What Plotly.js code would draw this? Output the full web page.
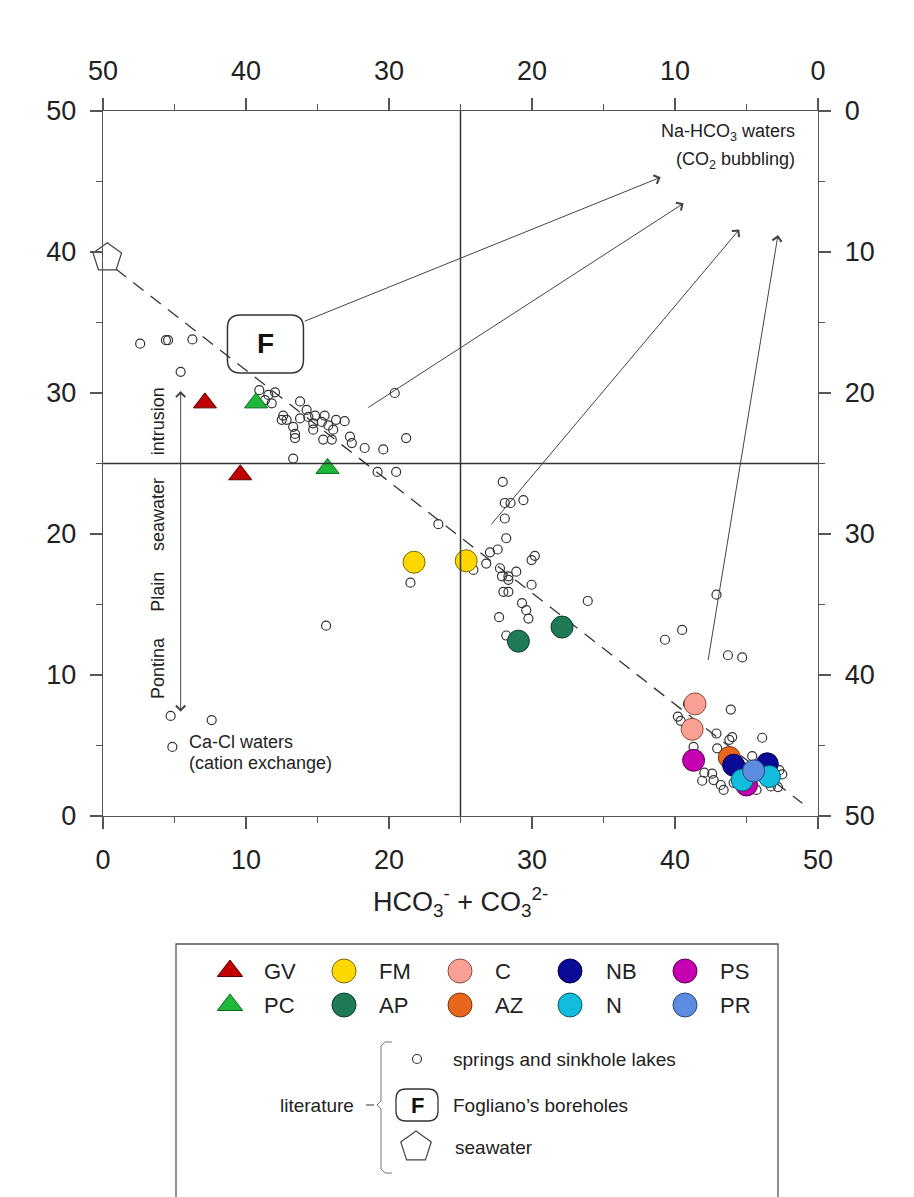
<!DOCTYPE html>
<html><head><meta charset="utf-8">
<script src="https://cdn.plot.ly/plotly-3.0.1.min.js"></script>
<style>html,body{margin:0;padding:0;background:#fff}#chart{width:914px;height:1197px}</style>
</head><body><div id="chart"></div>
<script>
// ---------------- data ----------------
const tickVals = [0, 10, 20, 30, 40, 50];
const springsX = [2.6,4.4,4.55,6.25,5.43,
  10.93,12.03,11.56,11.33,11.8,13.78,14.24,12.6,12.5,12.84,13.3,13.43,13.43,13.78,14.36,14.83,15.5,14.7,14.7,15.3,15.76,16.3,16.9,16.1,15.4,16.0,17.27,17.4,18.3,19.6,21.2,20.4,13.3,19.2,20.5,
  23.45,21.5,15.6,4.73,7.6,4.85,
  27.95,28.1,28.5,29.4,28.1,28.2,27.6,27.06,26.8,25.9,30.2,29.97,27.76,28.9,28.35,27.9,28.35,28.0,28.35,29.97,29.3,29.6,29.75,27.7,33.9,42.9,40.5,39.3,28.2,
  43.7,44.7,40.9,40.2,40.4,43.9,42.9,43.8,44.0,46.1,42.95,41.3,45.4,42.05,42.6,41.9,42.7,43.2,43.4,44.1,45.7,46.7,47.2,47.3,47.5];
const springsY = [33.5,33.75,33.75,33.8,31.5,
  30.2,30.05,29.86,29.5,29.27,29.4,28.8,28.4,28.1,28.1,27.6,27.1,26.8,28.2,28.3,28.4,28.4,27.85,27.4,27.95,27.7,28.1,28.0,27.4,26.7,26.7,26.9,26.45,26.1,26.0,26.8,30.0,25.35,24.4,24.4,
  20.7,16.55,13.5,7.1,6.8,4.9,
  23.7,22.2,22.2,22.4,21.1,19.7,18.9,18.7,17.9,17.45,18.45,18.15,17.57,17.33,17.0,17.0,16.75,15.9,15.9,16.4,15.1,14.6,14.0,14.1,15.25,15.7,13.2,12.5,12.8,
  11.4,11.25,7.95,7.05,6.75,7.55,5.85,5.4,5.6,5.55,4.8,4.9,4.25,3.07,3.0,2.5,2.55,2.2,1.85,2.35,1.85,2.1,2.05,3.25,2.95];
const seawaterX = [0.3], seawaterY = [39.6];
const foglianoX = [11.36], foglianoY = [33.48];
const gvX = [7.13, 9.6],   gvY = [29.3, 24.2];
const pcX = [10.7, 15.7],  pcY = [29.3, 24.65];
const fmX = [21.75, 25.4], fmY = [18.0, 18.1];
const apX = [29.05, 32.1], apY = [12.4, 13.4];
const cX  = [41.4, 41.2],  cY  = [7.95, 6.15];
const psX = [41.3, 45.0],  psY = [3.95, 2.2];
const azX = [43.8, 44.8],  azY = [4.15, 3.0];
const nbX = [44.1, 46.45], nbY = [3.6, 3.7];
const nX  = [46.6, 44.7],  nY  = [2.8, 2.55];
const prX = [45.5],        prY = [3.2];
const mixingX = [0.9, 48.9], mixingY = [38.8, 0.9];
const arrowTailX = [14.0, 18.44, 27.06, 42.3], arrowTailY = [35.05, 28.9, 20.57, 10.95];
const arrowHeadX = [39.0, 40.6, 44.5, 47.2],   arrowHeadY = [45.3, 43.45, 41.6, 41.2];
const intrusionX = [5.43, 5.43], intrusionY = [30.25, 7.4];
const legendOrder = ['GV','FM','C','NB','PS','PC','AP','AZ','N','PR'];

// ---------------- styles ----------------
const NARROW = '"Liberation Sans Narrow", "Liberation Sans", Arial, sans-serif';
const SANS = '"Liberation Sans", Arial, sans-serif';
const INK = '#222';
const AXC = '#555';
const groups = {
  GV: {x: gvX, y: gvY, sym: 'triangle-up', fill: '#C00000', edge: '#600000'},
  PC: {x: pcX, y: pcY, sym: 'triangle-up', fill: '#1DB83A', edge: '#0A6A1A'},
  FM: {x: fmX, y: fmY, sym: 'circle', fill: '#FFD700', edge: '#7A6A00'},
  AP: {x: apX, y: apY, sym: 'circle', fill: '#1F7A56', edge: '#0C3D2A'},
  C:  {x: cX,  y: cY,  sym: 'circle', fill: '#F7A093', edge: '#8A4A40'},
  PS: {x: psX, y: psY, sym: 'circle', fill: '#C400B0', edge: '#5A0050'},
  AZ: {x: azX, y: azY, sym: 'circle', fill: '#E8661C', edge: '#7A3510'},
  NB: {x: nbX, y: nbY, sym: 'circle', fill: '#0A0A96', edge: '#000040'},
  N:  {x: nX,  y: nY,  sym: 'circle', fill: '#12BCDC', edge: '#0A5A6A'},
  PR: {x: prX, y: prY, sym: 'circle', fill: '#5C8CE0', edge: '#2A4A80'}
};
const drawOrder = ['GV','PC','FM','AP','C','PS','AZ','NB','N','PR'];

// page geometry
const W = 914, H = 1197, PL = 103, PR = 818, PT = 111, PB = 816;
const mainBottom = (H - PB) / (H - PT);

const traces = [];
traces.push({x: mixingX, y: mixingY, mode: 'lines', line: {color: '#333', width: 1.3, dash: '13px,9px'}, hoverinfo: 'skip'});
traces.push({x: springsX, y: springsY, mode: 'markers', marker: {symbol: 'circle-open', size: 9, color: '#333', line: {width: 1.2}}});
drawOrder.forEach(k => {
  const g = groups[k];
  const tri = g.sym === 'triangle-up';
  traces.push({x: g.x, y: g.y, mode: 'markers', name: k,
    marker: {symbol: g.sym, size: tri ? 20 : 22, color: g.fill, line: {color: g.edge, width: 1}}});
});
traces.push({x: seawaterX, y: seawaterY, mode: 'markers', cliponaxis: false,
  marker: {symbol: 'pentagon', size: 30, color: '#fff', line: {color: '#444', width: 1.2}}});
traces.push({x: [], y: [], xaxis: 'x2', yaxis: 'y2', mode: 'markers'});

// legend (page-pixel subplot x3/y3)
const legColX = [230, 344, 460, 570, 685];
const legTextX = [262, 377, 493, 604, 718];
const legRowY = [971, 1005];
const annotations = [];
legendOrder.forEach((k, i) => {
  const g = groups[k];
  const col = i % 5, row = Math.floor(i / 5);
  const tri = g.sym === 'triangle-up';
  traces.push({x: [legColX[col]], y: [legRowY[row]], xaxis: 'x3', yaxis: 'y3', mode: 'markers', cliponaxis: false,
    marker: {symbol: g.sym, size: tri ? 22 : 24, color: g.fill, line: {color: g.edge, width: 1}}});
  annotations.push({xref: 'x3', yref: 'y3', x: legTextX[col], y: legRowY[row], text: k, showarrow: false,
    xanchor: 'left', yanchor: 'middle', font: {family: NARROW, size: 22, color: INK}});
});
const litX = 417, litRows = [1059, 1105, 1147], litTextX = 451;
traces.push({x: [litX], y: [litRows[0]], xaxis: 'x3', yaxis: 'y3', mode: 'markers',
  marker: {symbol: 'circle-open', size: 9, color: '#333', line: {width: 1.2}}});
traces.push({x: [litX - 1], y: [litRows[2]], xaxis: 'x3', yaxis: 'y3', mode: 'markers',
  marker: {symbol: 'pentagon', size: 32, color: '#fff', line: {color: '#444', width: 1.2}}});

function rrect(x0, y0, x1, y1, r) {
  return `M${x0+r},${y0} L${x1-r},${y0} Q${x1},${y0} ${x1},${y0+r} L${x1},${y1-r} Q${x1},${y1} ${x1-r},${y1} L${x0+r},${y1} Q${x0},${y1} ${x0},${y1-r} L${x0},${y0+r} Q${x0},${y0} ${x0+r},${y0} Z`;
}

const shapes = [
  {type: 'line', xref: 'x', yref: 'y', x0: 25, x1: 25, y0: 0, y1: 50, line: {color: '#333', width: 1.5}},
  {type: 'line', xref: 'x', yref: 'y', x0: 0, x1: 50, y0: 25, y1: 25, line: {color: '#333', width: 1.5}},
  {type: 'path', xref: 'x', yref: 'y', xsizemode: 'pixel', ysizemode: 'pixel', xanchor: foglianoX[0], yanchor: foglianoY[0],
    path: rrect(-38, -29, 38, 29, 13), line: {color: '#333', width: 1.5}},
  // legend frame
  {type: 'rect', xref: 'x3', yref: 'y3', x0: 176, x1: 778, y0: 944, y1: 1215, line: {color: AXC, width: 1.3}},
  // legend F box
  {type: 'path', xref: 'x3', yref: 'y3', path: rrect(litX - 21, litRows[1] - 16, litX + 21, litRows[1] + 16, 10), line: {color: '#333', width: 1.3}},
  // bracket
  {type: 'path', xref: 'x3', yref: 'y3', path: 'M392,1042 L385,1042 L381,1046 L381,1101 L377,1105 L381,1109 L381,1169 L385,1173 L392,1173', line: {color: '#777', width: 1}},
  {type: 'line', xref: 'x3', yref: 'y3', x0: 366, x1: 374, y0: 1105, y1: 1105, line: {color: '#555', width: 1.2}}
];

// arrows
arrowTailX.forEach((tx, i) => {
  annotations.push({xref: 'x', yref: 'y', axref: 'x', ayref: 'y', x: arrowHeadX[i], y: arrowHeadY[i], ax: tx, ay: arrowTailY[i],
    text: '', showarrow: true, arrowhead: 4, arrowsize: 1.8, arrowwidth: 1, arrowcolor: '#444', standoff: 0, startstandoff: 0});
});
annotations.push({xref: 'x', yref: 'y', axref: 'x', ayref: 'y', x: intrusionX[1], y: intrusionY[1], ax: intrusionX[0], ay: intrusionY[0],
  text: '', showarrow: true, arrowside: 'end+start', arrowhead: 4, startarrowhead: 4, arrowsize: 1.8, startarrowsize: 1.8,
  arrowwidth: 1, arrowcolor: '#444', standoff: 0, startstandoff: 0});

// F label
annotations.push({xref: 'x', yref: 'y', x: foglianoX[0], y: foglianoY[0], text: '<b>F</b>', showarrow: false,
  font: {family: SANS, size: 28, color: '#111'}});
annotations.push({xref: 'x3', yref: 'y3', x: litX, y: litRows[1], text: '<b>F</b>', showarrow: false,
  font: {family: SANS, size: 22, color: '#111'}});

// in-plot texts
const txt = (x, y, t, xa, extra) => Object.assign({xref: 'x', yref: 'y', x: x, y: y, text: t, showarrow: false,
  xanchor: xa, yanchor: 'middle', font: {family: SANS, size: 18, color: INK}}, extra || {});
annotations.push(txt(48.53, 48.5, 'Na-HCO<sub>3</sub> waters', 'right'));
annotations.push(txt(48.53, 46.5, '(CO<sub>2</sub> bubbling)', 'right'));
annotations.push(txt(5.9, 5.27, 'Ca-Cl waters', 'left'));
annotations.push(txt(5.9, 3.78, '(cation exchange)', 'left'));
[['Pontina', 10.5], ['Plain', 15.9], ['seawater', 21.35], ['intrusion', 28.0]].forEach(w => {
  annotations.push(txt(3.85, w[1], w[0], 'center', {textangle: -90, yanchor: 'middle'}));
});

// legend literature texts
annotations.push({xref: 'x3', yref: 'y3', x: litTextX, y: litRows[0], text: 'springs and sinkhole lakes', showarrow: false, xanchor: 'left', font: {family: SANS, size: 19, color: INK}});
annotations.push({xref: 'x3', yref: 'y3', x: litTextX, y: litRows[1], text: 'Fogliano\u2019s boreholes', showarrow: false, xanchor: 'left', font: {family: SANS, size: 19, color: INK}});
annotations.push({xref: 'x3', yref: 'y3', x: litTextX + 2, y: litRows[2], text: 'seawater', showarrow: false, xanchor: 'left', font: {family: SANS, size: 19, color: INK}});
annotations.push({xref: 'x3', yref: 'y3', x: 356, y: litRows[1], text: 'literature', showarrow: false, xanchor: 'right', font: {family: SANS, size: 19, color: INK}});

// axis titles
const TF = {family: NARROW, size: 27, color: INK};
annotations.push({xref: 'x3', yref: 'y3', x: 460, y: 902, text: 'HCO<sub>3</sub><sup>-</sup> + CO<sub>3</sub><sup>2-</sup>', showarrow: false, font: TF});
annotations.push({xref: 'x3', yref: 'y3', x: 460, y: 30, text: 'SO<sub>4</sub><sup>2-</sup> + Cl<sup>-</sup>', showarrow: false, font: TF});
annotations.push({xref: 'x3', yref: 'y3', x: 24, y: 464, text: 'Na<sup>+</sup> + K<sup>+</sup>', showarrow: false, textangle: -90, font: TF});
annotations.push({xref: 'x3', yref: 'y3', x: 893, y: 462, text: 'Ca<sup>2+</sup> + Mg<sup>2+</sup>', showarrow: false, textangle: 90, font: TF});

function axStyle(extra) {
  return Object.assign({
    showline: true, linecolor: AXC, linewidth: 1.3, ticks: 'outside', ticklen: 12, tickwidth: 1.3, tickcolor: AXC,
    showgrid: false, zeroline: false, tick0: 0, dtick: 10,
    minor: {dtick: 5, tick0: 0, ticks: 'outside', ticklen: 6, tickwidth: 1.3, tickcolor: AXC},
    tickfont: {family: NARROW, size: 27, color: INK}, fixedrange: true
  }, extra);
}

const layout = {
  width: W, height: H, showlegend: false, paper_bgcolor: '#fff', plot_bgcolor: 'rgba(0,0,0,0)',
  margin: {l: PL, r: W - PR, t: PT, b: 0},
  xaxis: axStyle({domain: [0, 1], range: [0, 50], anchor: 'y', side: 'bottom', ticklabelstandoff: 7}),
  yaxis: axStyle({domain: [mainBottom, 1], range: [0, 50], anchor: 'x', side: 'left', ticklabelstandoff: 8}),
  xaxis2: axStyle({overlaying: 'x', range: [50, 0], anchor: 'y', side: 'top', ticklabelstandoff: 7}),
  yaxis2: axStyle({overlaying: 'y', range: [50, 0], anchor: 'x', side: 'right', ticklabelstandoff: 8}),
  xaxis3: {domain: [0, 1], range: [PL, PR], anchor: 'y3', visible: false, fixedrange: true},
  yaxis3: {domain: [0, mainBottom], range: [H, PB], anchor: 'x3', visible: false, fixedrange: true},
  shapes: shapes, annotations: annotations
};

Plotly.newPlot('chart', traces, layout, {displayModeBar: false, staticPlot: true});
</script></body></html>
